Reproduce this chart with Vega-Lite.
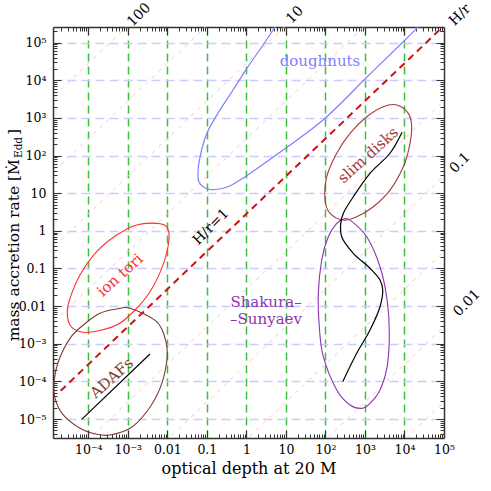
{
  "$schema": "https://vega.github.io/schema/vega-lite/v6.json",
  "width": 391,
  "height": 411,
  "autosize": {"type": "none"},
  "padding": {"left": 53, "top": 27, "right": 47, "bottom": 53},
  "background": "white",
  "config": {
    "view": {"stroke": null},
    "axis": {"labelFont": "DejaVu Serif", "titleFont": "DejaVu Serif", "labelColor": "#000", "titleColor": "#000", "labelFontSize": 12.5, "titleFontSize": 16, "titleFontWeight": "normal", "tickColor": "#333", "tickWidth": 1, "domainColor": "#333", "domainWidth": 1.5, "labelFlush": false, "labelOverlap": false},
    "text": {"font": "DejaVu Serif"}
  },
  "resolve": {"axis": {"x": "independent", "y": "independent"}},
  "datasets": {
    "diag": [
      {"k": -5, "x": 2e-5, "y": 5.636e-15}, {"k": -5, "x": 1e6, "y": 2.818e-4},
      {"k": -4, "x": 2e-5, "y": 5.636e-13}, {"k": -4, "x": 1e6, "y": 2.818e-2},
      {"k": -3, "x": 2e-5, "y": 5.636e-11}, {"k": -3, "x": 1e6, "y": 2.818},
      {"k": -2, "x": 2e-5, "y": 5.636e-9}, {"k": -2, "x": 1e6, "y": 281.8},
      {"k": -1, "x": 2e-5, "y": 5.636e-7}, {"k": -1, "x": 1e6, "y": 28180},
      {"k": 1, "x": 2e-5, "y": 5.636e-3}, {"k": 1, "x": 1e6, "y": 2.818e8},
      {"k": 2, "x": 2e-5, "y": 0.5636}, {"k": 2, "x": 1e6, "y": 2.818e10},
      {"k": 3, "x": 2e-5, "y": 56.36}, {"k": 3, "x": 1e6, "y": 2.818e12},
      {"k": 4, "x": 2e-5, "y": 5636}, {"k": 4, "x": 1e6, "y": 2.818e14}
    ],
    "unity": [
      {"x": 2e-5, "y": 5.636e-5}, {"x": 1e6, "y": 2.818e6}
    ],
    "ellipses": [
      {"g": "ion tori", "i": 1, "x": 5.38e-3, "y": 1.58},
      {"g": "ion tori", "i": 2, "x": 9.64e-3, "y": 1.28},
      {"g": "ion tori", "i": 3, "x": 1.10e-2, "y": 0.569},
      {"g": "ion tori", "i": 4, "x": 7.76e-3, "y": 0.123},
      {"g": "ion tori", "i": 5, "x": 3.64e-3, "y": 0.0241},
      {"g": "ion tori", "i": 6, "x": 1.38e-3, "y": 7.08e-3},
      {"g": "ion tori", "i": 7, "x": 5.24e-4, "y": 3.14e-3},
      {"g": "ion tori", "i": 8, "x": 1.34e-4, "y": 2.08e-3},
      {"g": "ion tori", "i": 9, "x": 6.17e-5, "y": 2.08e-3},
      {"g": "ion tori", "i": 10, "x": 3.44e-5, "y": 3.14e-3},
      {"g": "ion tori", "i": 11, "x": 2.94e-5, "y": 7.08e-3},
      {"g": "ion tori", "i": 12, "x": 3.44e-5, "y": 0.0161},
      {"g": "ion tori", "i": 13, "x": 6.17e-5, "y": 0.0668},
      {"g": "ion tori", "i": 14, "x": 1.63e-4, "y": 0.278},
      {"g": "ion tori", "i": 15, "x": 5.24e-4, "y": 0.773},
      {"g": "ion tori", "i": 16, "x": 1.68e-3, "y": 1.43},
      {"g": "ADAFs", "i": 1, "x": 1.14e-3, "y": 8.73e-3},
      {"g": "ADAFs", "i": 2, "x": 5.38e-3, "y": 3.85e-3},
      {"g": "ADAFs", "i": 3, "x": 9.25e-3, "y": 1.13e-3},
      {"g": "ADAFs", "i": 4, "x": 9.64e-3, "y": 3.33e-4},
      {"g": "ADAFs", "i": 5, "x": 6.52e-3, "y": 6.53e-5},
      {"g": "ADAFs", "i": 6, "x": 3.01e-3, "y": 1.56e-5},
      {"g": "ADAFs", "i": 7, "x": 1.14e-3, "y": 5.66e-6},
      {"g": "ADAFs", "i": 8, "x": 3.54e-4, "y": 3.76e-6},
      {"g": "ADAFs", "i": 9, "x": 1.63e-4, "y": 3.92e-6},
      {"g": "ADAFs", "i": 10, "x": 6.17e-5, "y": 5.66e-6},
      {"g": "ADAFs", "i": 11, "x": 2.33e-5, "y": 1.28e-5},
      {"g": "ADAFs", "i": 12, "x": 1.44e-5, "y": 3.54e-5},
      {"g": "ADAFs", "i": 13, "x": 1.36e-5, "y": 9.77e-5},
      {"g": "ADAFs", "i": 14, "x": 1.74e-5, "y": 3.33e-4},
      {"g": "ADAFs", "i": 15, "x": 3.44e-5, "y": 1.39e-3},
      {"g": "ADAFs", "i": 16, "x": 7.48e-5, "y": 3.14e-3},
      {"g": "ADAFs", "i": 17, "x": 1.98e-4, "y": 6.43e-3},
      {"g": "ADAFs", "i": 18, "x": 5.24e-4, "y": 8.36e-3},
      {"g": "slim disks", "i": 1, "x": 6370, "y": 2198},
      {"g": "slim disks", "i": 2, "x": 12500, "y": 1321},
      {"g": "slim disks", "i": 3, "x": 15240, "y": 582},
      {"g": "slim disks", "i": 4, "x": 13270, "y": 171},
      {"g": "slim disks", "i": 5, "x": 9350, "y": 50.5},
      {"g": "slim disks", "i": 6, "x": 4306, "y": 12.1},
      {"g": "slim disks", "i": 7, "x": 1629, "y": 4.37},
      {"g": "slim disks", "i": 8, "x": 619, "y": 2.37},
      {"g": "slim disks", "i": 9, "x": 284, "y": 1.93},
      {"g": "slim disks", "i": 10, "x": 131, "y": 2.91},
      {"g": "slim disks", "i": 11, "x": 97.7, "y": 6.58},
      {"g": "slim disks", "i": 12, "x": 108, "y": 27.4},
      {"g": "slim disks", "i": 13, "x": 193, "y": 115},
      {"g": "slim disks", "i": 14, "x": 419, "y": 389},
      {"g": "slim disks", "i": 15, "x": 1109, "y": 1074},
      {"g": "slim disks", "i": 16, "x": 2917, "y": 1982},
      {"g": "Shakura–Sunyaev", "i": 1, "x": 284, "y": 2.02},
      {"g": "Shakura–Sunyaev", "i": 2, "x": 419, "y": 1.93},
      {"g": "Shakura–Sunyaev", "i": 3, "x": 1109, "y": 0.697},
      {"g": "Shakura–Sunyaev", "i": 4, "x": 2404, "y": 0.111},
      {"g": "Shakura–Sunyaev", "i": 5, "x": 3639, "y": 0.0145},
      {"g": "Shakura–Sunyaev", "i": 6, "x": 4140, "y": 1.89e-3},
      {"g": "Shakura–Sunyaev", "i": 7, "x": 3639, "y": 2.46e-4},
      {"g": "Shakura–Sunyaev", "i": 8, "x": 2404, "y": 5.92e-5},
      {"g": "Shakura–Sunyaev", "i": 9, "x": 1343, "y": 2.62e-5},
      {"g": "Shakura–Sunyaev", "i": 10, "x": 828, "y": 1.92e-5},
      {"g": "Shakura–Sunyaev", "i": 11, "x": 419, "y": 2.36e-5},
      {"g": "Shakura–Sunyaev", "i": 12, "x": 193, "y": 5.92e-5},
      {"g": "Shakura–Sunyaev", "i": 13, "x": 88.5, "y": 4.52e-4},
      {"g": "Shakura–Sunyaev", "i": 14, "x": 70.0, "y": 2.83e-3},
      {"g": "Shakura–Sunyaev", "i": 15, "x": 66.1, "y": 0.0218},
      {"g": "Shakura–Sunyaev", "i": 16, "x": 80.5, "y": 0.168},
      {"g": "Shakura–Sunyaev", "i": 17, "x": 118, "y": 0.697},
      {"g": "Shakura–Sunyaev", "i": 18, "x": 193, "y": 1.58}
    ],
    "curves": [
      {"g": "doughnuts", "c": "doughnut", "i": 1, "x": 8.45, "y": 541000},
      {"g": "doughnuts", "c": "doughnut", "i": 2, "x": 5.30, "y": 259000},
      {"g": "doughnuts", "c": "doughnut", "i": 3, "x": 2.34, "y": 71800},
      {"g": "doughnuts", "c": "doughnut", "i": 4, "x": 1.04, "y": 21100},
      {"g": "doughnuts", "c": "doughnut", "i": 5, "x": 0.459, "y": 5495},
      {"g": "doughnuts", "c": "doughnut", "i": 6, "x": 0.215, "y": 1618},
      {"g": "doughnuts", "c": "doughnut", "i": 7, "x": 0.101, "y": 396},
      {"g": "doughnuts", "c": "doughnut", "i": 8, "x": 0.0671, "y": 91.2},
      {"g": "doughnuts", "c": "doughnut", "i": 9, "x": 0.0597, "y": 34.3},
      {"g": "doughnuts", "c": "doughnut", "i": 10, "x": 0.0632, "y": 19.8},
      {"g": "doughnuts", "c": "doughnut", "i": 11, "x": 0.107, "y": 12.9},
      {"g": "doughnuts", "c": "doughnut", "i": 12, "x": 0.324, "y": 14.6},
      {"g": "doughnuts", "c": "doughnut", "i": 13, "x": 0.690, "y": 22.3},
      {"g": "doughnuts", "c": "doughnut", "i": 14, "x": 8.45, "y": 140},
      {"g": "doughnuts", "c": "doughnut", "i": 15, "x": 86.9, "y": 877},
      {"g": "doughnuts", "c": "doughnut", "i": 16, "x": 1127, "y": 12200},
      {"g": "doughnuts", "c": "doughnut", "i": 17, "x": 9183, "y": 104000},
      {"g": "doughnuts", "c": "doughnut", "i": 18, "x": 22000, "y": 259000},
      {"g": "doughnuts", "c": "doughnut", "i": 19, "x": 44400, "y": 541000},
      {"g": "track", "c": "adaf", "i": 1, "x": 6.81e-5, "y": 9.82e-6},
      {"g": "track", "c": "adaf", "i": 2, "x": 3.64e-3, "y": 5.32e-4},
      {"g": "track", "c": "disk", "i": 1, "x": 8710, "y": 413},
      {"g": "track", "c": "disk", "i": 2, "x": 4306, "y": 115},
      {"g": "track", "c": "disk", "i": 3, "x": 1343, "y": 33.7},
      {"g": "track", "c": "disk", "i": 4, "x": 508, "y": 8.04},
      {"g": "track", "c": "disk", "i": 5, "x": 284, "y": 2.91},
      {"g": "track", "c": "disk", "i": 6, "x": 244, "y": 1.58},
      {"g": "track", "c": "disk", "i": 7, "x": 258, "y": 0.697},
      {"g": "track", "c": "disk", "i": 8, "x": 508, "y": 0.252},
      {"g": "track", "c": "disk", "i": 9, "x": 1343, "y": 0.101},
      {"g": "track", "c": "disk", "i": 10, "x": 2404, "y": 0.0492},
      {"g": "track", "c": "disk", "i": 11, "x": 2818, "y": 0.0267},
      {"g": "track", "c": "disk", "i": 12, "x": 2404, "y": 9.62e-3},
      {"g": "track", "c": "disk", "i": 13, "x": 1343, "y": 2.31e-3},
      {"g": "track", "c": "disk", "i": 14, "x": 619, "y": 5.56e-4},
      {"g": "track", "c": "disk", "i": 15, "x": 274, "y": 9.77e-5}
    ],
    "labelsRot": [
      {"t": "ion tori", "g": "ion tori", "x": 6.34e-4, "y": 0.0668},
      {"t": "ADAFs", "g": "ADAFs", "x": 3.91e-4, "y": 1.23e-4},
      {"t": "slim disks", "g": "slim disks", "x": 1197, "y": 103}
    ],
    "labelsFlat": [
      {"t": "doughnuts", "g": "doughnuts", "x": 72.9, "y": 32400},
      {"t": "Shakura–\n–Sunyaev", "g": "Shakura–Sunyaev", "x": 3.14, "y": 0.0128}
    ],
    "labelsBlack": [
      {"t": "H/r=1", "x": 0.127, "y": 1.26},
      {"t": "100", "x": 1.92e-3, "y": 541000},
      {"t": "10", "x": 17.0, "y": 541000},
      {"t": "H/r", "x": 255000, "y": 541000},
      {"t": "0.1", "x": 255000, "y": 63.2},
      {"t": "0.01", "x": 383000, "y": 0.012}
    ],
    "titleMain": [{"t": "mass accretion rate [Ṁ", "x": 1.77e-6, "y": 80.7}],
    "titleSub": [{"t": "Edd", "x": 2.1e-6, "y": 85.9}],
    "titleEnd": [{"t": "]", "x": 1.77e-6, "y": 351}]
  },
  "layer": [
    {
      "data": {"name": "diag"},
      "mark": {"type": "line", "color": "#ffc4c4", "strokeWidth": 1, "strokeDash": [4, 5], "clip": true},
      "encoding": {
        "x": {"field": "x", "type": "quantitative", "scale": {"type": "log", "domain": [1.28e-5, 100000], "nice": false},
          "axis": {"orient": "bottom", "values": [1e-4, 1e-3, 0.01, 0.1, 1, 10, 100, 1000, 10000, 100000], "labelExpr": "['10⁻⁵','10⁻⁴','10⁻³','0.01','0.1','1','10','10²','10³','10⁴','10⁵'][round(log(datum.value)/LN10)+5]", "ticks": false, "grid": false, "domain": true, "labelPadding": 5, "title": "optical depth at 20 M", "titleY": 35, "titleBaseline": "alphabetic"}},
        "y": {"field": "y", "type": "quantitative", "scale": {"type": "log", "domain": [3.13e-6, 260000], "nice": false},
          "axis": {"orient": "left", "values": [1e-5, 1e-4, 1e-3, 0.01, 0.1, 1, 10, 100, 1000, 10000, 100000], "labelExpr": "['10⁻⁵','10⁻⁴','10⁻³','0.01','0.1','1','10','10²','10³','10⁴','10⁵'][round(log(datum.value)/LN10)+5]", "ticks": false, "grid": true, "gridColor": "#ccccff", "gridDash": [9, 5], "gridWidth": 1.5, "domain": true, "labelPadding": 7, "title": null}},
        "detail": {"field": "k", "type": "nominal"}
      }
    },
    {
      "data": {"name": "unity"},
      "mark": {"type": "line", "color": "#cc1111", "strokeWidth": 2, "strokeDash": [7, 5], "clip": true},
      "encoding": {
        "x": {"field": "x", "type": "quantitative", "scale": {"type": "log", "domain": [1.28e-5, 100000], "nice": false},
          "axis": {"orient": "top", "values": [1e-4, 1e-3, 0.01, 0.1, 1, 10, 100, 1000, 10000], "labels": false, "ticks": true, "tickSize": -8, "grid": true, "gridColor": "#3cbf3c", "gridDash": [8, 5], "gridWidth": 1.5, "domain": true, "title": null}},
        "y": {"field": "y", "type": "quantitative", "scale": {"type": "log", "domain": [3.13e-6, 260000], "nice": false},
          "axis": {"orient": "right", "values": [1e-5, 1e-4, 1e-3, 0.01, 0.1, 1, 10, 100, 1000, 10000, 100000], "labels": false, "ticks": true, "tickSize": -8, "grid": false, "domain": true, "title": null}}
      }
    },
    {
      "data": {"name": "ellipses"},
      "mark": {"type": "line", "interpolate": "cardinal-closed", "strokeWidth": 1.1, "clip": true},
      "encoding": {
        "x": {"field": "x", "type": "quantitative", "scale": {"type": "log", "domain": [1.28e-5, 100000], "nice": false},
          "axis": {"orient": "bottom", "values": [1e-4, 1e-3, 0.01, 0.1, 1, 10, 100, 1000, 10000], "labels": false, "ticks": true, "tickSize": -8, "grid": false, "domain": false, "title": null}},
        "y": {"field": "y", "type": "quantitative", "scale": {"type": "log", "domain": [3.13e-6, 260000], "nice": false},
          "axis": {"orient": "left", "values": [1e-5, 1e-4, 1e-3, 0.01, 0.1, 1, 10, 100, 1000, 10000, 100000], "labels": false, "ticks": true, "tickSize": -8, "grid": false, "domain": false, "title": null}},
        "color": {"field": "g", "type": "nominal", "legend": null,
          "scale": {"domain": ["doughnuts", "ion tori", "ADAFs", "slim disks", "Shakura–Sunyaev", "track"], "range": ["#7f7fff", "#ff3030", "#7a3b2e", "#a33c3c", "#8b35b0", "#000000"]}},
        "order": {"field": "i", "type": "quantitative"}
      }
    },
    {
      "data": {"name": "curves"},
      "mark": {"type": "line", "interpolate": "catmull-rom", "strokeWidth": 1.2, "clip": true},
      "encoding": {
        "x": {"field": "x", "type": "quantitative", "scale": {"type": "log", "domain": [1.28e-5, 100000], "nice": false},
          "axis": {"orient": "bottom", "values": [2e-5, 3e-5, 4e-5, 5e-5, 6e-5, 7e-5, 8e-5, 9e-5, 2e-4, 3e-4, 4e-4, 5e-4, 6e-4, 7e-4, 8e-4, 9e-4, 0.002, 0.003, 0.004, 0.005, 0.006, 0.007, 0.008, 0.009, 0.02, 0.03, 0.04, 0.05, 0.06, 0.07, 0.08, 0.09, 0.2, 0.3, 0.4, 0.5, 0.6, 0.7, 0.8, 0.9, 2, 3, 4, 5, 6, 7, 8, 9, 20, 30, 40, 50, 60, 70, 80, 90, 200, 300, 400, 500, 600, 700, 800, 900, 2000, 3000, 4000, 5000, 6000, 7000, 8000, 9000, 20000, 30000, 40000, 50000, 60000, 70000, 80000, 90000], "labels": false, "ticks": true, "tickSize": -4, "grid": false, "domain": false, "title": null}},
        "y": {"field": "y", "type": "quantitative", "scale": {"type": "log", "domain": [3.13e-6, 260000], "nice": false},
          "axis": {"orient": "left", "values": [4e-6, 5e-6, 6e-6, 7e-6, 8e-6, 9e-6, 2e-5, 3e-5, 4e-5, 5e-5, 6e-5, 7e-5, 8e-5, 9e-5, 2e-4, 3e-4, 4e-4, 5e-4, 6e-4, 7e-4, 8e-4, 9e-4, 0.002, 0.003, 0.004, 0.005, 0.006, 0.007, 0.008, 0.009, 0.02, 0.03, 0.04, 0.05, 0.06, 0.07, 0.08, 0.09, 0.2, 0.3, 0.4, 0.5, 0.6, 0.7, 0.8, 0.9, 2, 3, 4, 5, 6, 7, 8, 9, 20, 30, 40, 50, 60, 70, 80, 90, 200, 300, 400, 500, 600, 700, 800, 900, 2000, 3000, 4000, 5000, 6000, 7000, 8000, 9000, 20000, 30000, 40000, 50000, 60000, 70000, 80000, 90000, 200000], "labels": false, "ticks": true, "tickSize": -4, "grid": false, "domain": false, "title": null}},
        "color": {"field": "g", "type": "nominal", "legend": null},
        "detail": {"field": "c", "type": "nominal"},
        "order": {"field": "i", "type": "quantitative"}
      }
    },
    {
      "data": {"name": "labelsRot"},
      "mark": {"type": "text", "angle": 318, "fontSize": 15, "align": "center", "baseline": "middle"},
      "encoding": {
        "x": {"field": "x", "type": "quantitative", "scale": {"type": "log", "domain": [1.28e-5, 100000], "nice": false},
          "axis": {"orient": "top", "values": [2e-5, 3e-5, 4e-5, 5e-5, 6e-5, 7e-5, 8e-5, 9e-5, 2e-4, 3e-4, 4e-4, 5e-4, 6e-4, 7e-4, 8e-4, 9e-4, 0.002, 0.003, 0.004, 0.005, 0.006, 0.007, 0.008, 0.009, 0.02, 0.03, 0.04, 0.05, 0.06, 0.07, 0.08, 0.09, 0.2, 0.3, 0.4, 0.5, 0.6, 0.7, 0.8, 0.9, 2, 3, 4, 5, 6, 7, 8, 9, 20, 30, 40, 50, 60, 70, 80, 90, 200, 300, 400, 500, 600, 700, 800, 900, 2000, 3000, 4000, 5000, 6000, 7000, 8000, 9000, 20000, 30000, 40000, 50000, 60000, 70000, 80000, 90000], "labels": false, "ticks": true, "tickSize": -4, "grid": false, "domain": false, "title": null}},
        "y": {"field": "y", "type": "quantitative", "scale": {"type": "log", "domain": [3.13e-6, 260000], "nice": false},
          "axis": {"orient": "right", "values": [4e-6, 5e-6, 6e-6, 7e-6, 8e-6, 9e-6, 2e-5, 3e-5, 4e-5, 5e-5, 6e-5, 7e-5, 8e-5, 9e-5, 2e-4, 3e-4, 4e-4, 5e-4, 6e-4, 7e-4, 8e-4, 9e-4, 0.002, 0.003, 0.004, 0.005, 0.006, 0.007, 0.008, 0.009, 0.02, 0.03, 0.04, 0.05, 0.06, 0.07, 0.08, 0.09, 0.2, 0.3, 0.4, 0.5, 0.6, 0.7, 0.8, 0.9, 2, 3, 4, 5, 6, 7, 8, 9, 20, 30, 40, 50, 60, 70, 80, 90, 200, 300, 400, 500, 600, 700, 800, 900, 2000, 3000, 4000, 5000, 6000, 7000, 8000, 9000, 20000, 30000, 40000, 50000, 60000, 70000, 80000, 90000, 200000], "labels": false, "ticks": true, "tickSize": -4, "grid": false, "domain": false, "title": null}},
        "text": {"field": "t"},
        "color": {"field": "g", "type": "nominal", "legend": null}
      }
    },
    {
      "data": {"name": "labelsFlat"},
      "mark": {"type": "text", "fontSize": 15, "align": "center", "baseline": "middle", "lineBreak": "\n", "lineHeight": 17},
      "encoding": {
        "x": {"field": "x", "type": "quantitative", "axis": null},
        "y": {"field": "y", "type": "quantitative", "axis": null},
        "text": {"field": "t"},
        "color": {"field": "g", "type": "nominal", "legend": null}
      }
    },
    {
      "data": {"name": "labelsBlack"},
      "mark": {"type": "text", "angle": 315, "fontSize": 14, "align": "center", "baseline": "middle", "color": "#000"},
      "encoding": {
        "x": {"field": "x", "type": "quantitative", "axis": null},
        "y": {"field": "y", "type": "quantitative", "axis": null},
        "text": {"field": "t"}
      }
    },
    {
      "data": {"name": "titleMain"},
      "mark": {"type": "text", "angle": 270, "fontSize": 15.5, "align": "right", "baseline": "alphabetic", "color": "#000"},
      "encoding": {
        "x": {"field": "x", "type": "quantitative", "axis": null},
        "y": {"field": "y", "type": "quantitative", "axis": null},
        "text": {"field": "t"}
      }
    },
    {
      "data": {"name": "titleSub"},
      "mark": {"type": "text", "angle": 270, "fontSize": 10.5, "align": "left", "baseline": "alphabetic", "color": "#000"},
      "encoding": {
        "x": {"field": "x", "type": "quantitative", "axis": null},
        "y": {"field": "y", "type": "quantitative", "axis": null},
        "text": {"field": "t"}
      }
    },
    {
      "data": {"name": "titleEnd"},
      "mark": {"type": "text", "angle": 270, "fontSize": 15.5, "align": "left", "baseline": "alphabetic", "color": "#000"},
      "encoding": {
        "x": {"field": "x", "type": "quantitative", "axis": null},
        "y": {"field": "y", "type": "quantitative", "axis": null},
        "text": {"field": "t"}
      }
    }
  ]
}
